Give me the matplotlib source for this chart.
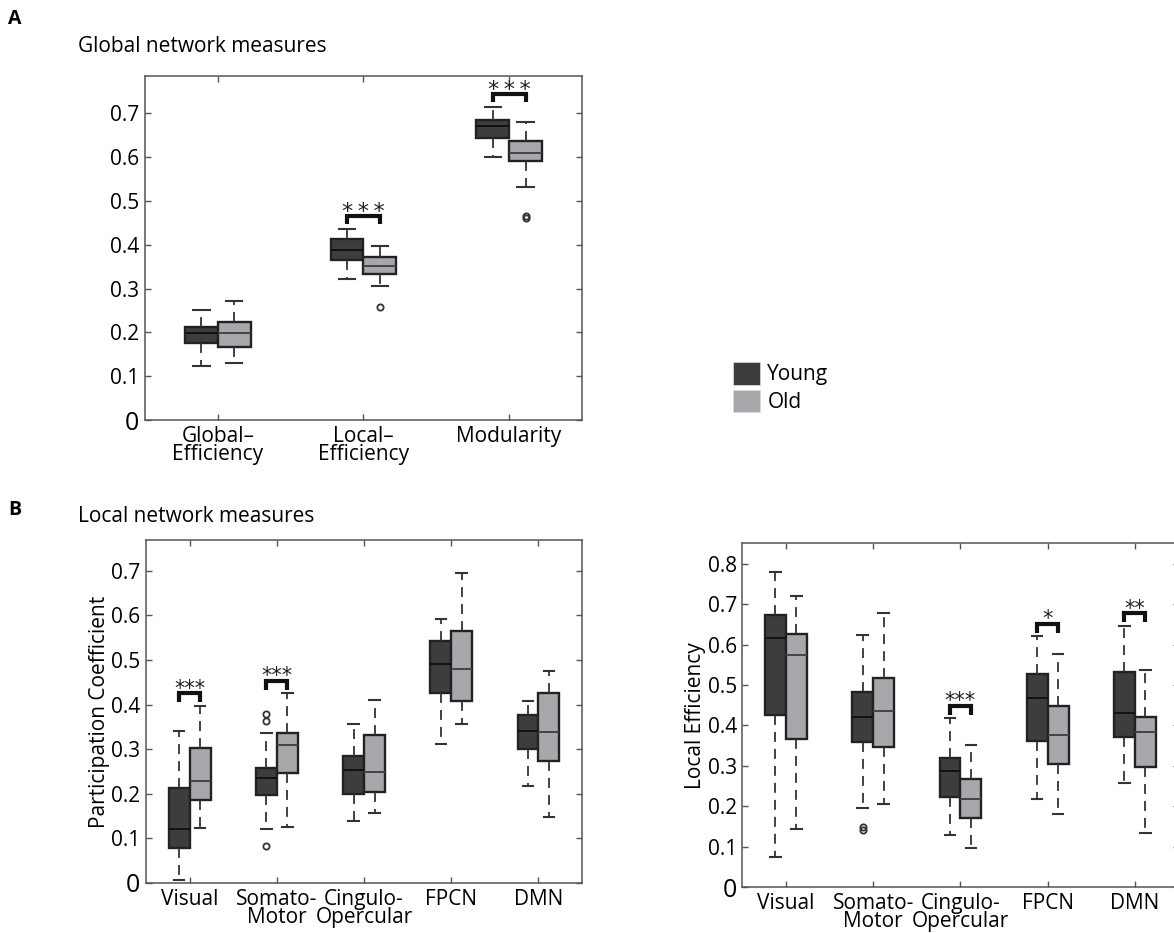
import matplotlib
matplotlib.use('Agg')
import matplotlib.pyplot as plt
import numpy as np
from matplotlib.patches import Patch

plt.rcParams['font.family'] = ['Open Sans', 'DejaVu Sans']

# %% data -- panel A, global network measures
global_labels = ['Global\u2013\nEfficiency', 'Local\u2013\nEfficiency', 'Modularity']
g_young_q1 = [0.175, 0.366, 0.643]
g_young_med = [0.198, 0.387, 0.671]
g_young_q3 = [0.213, 0.413, 0.685]
g_young_lo = [0.123, 0.322, 0.600]
g_young_hi = [0.250, 0.436, 0.714]
g_young_out = [[], [], []]
g_old_q1 = [0.167, 0.334, 0.590]
g_old_med = [0.198, 0.352, 0.610]
g_old_q3 = [0.224, 0.372, 0.636]
g_old_lo = [0.130, 0.305, 0.532]
g_old_hi = [0.271, 0.398, 0.680]
g_old_out = [[], [0.259], [0.460, 0.466]]
g_sig_idx = [1, 2]
g_sig_top = [0.465, 0.743]
g_sig_txt = ['*\u2009*\u2009*', '*\u2009*\u2009*']

# %% panel B, local network measures
net_labels = ['Visual', 'Somato-\nMotor', 'Cingulo-\nOpercular', 'FPCN', 'DMN']
# participation coefficient
p_young_q1 = [0.078, 0.197, 0.200, 0.426, 0.300]
p_young_med = [0.121, 0.235, 0.254, 0.492, 0.341]
p_young_q3 = [0.213, 0.258, 0.284, 0.543, 0.377]
p_young_lo = [0.006, 0.120, 0.140, 0.311, 0.218]
p_young_hi = [0.340, 0.336, 0.357, 0.593, 0.409]
p_young_out = [[], [0.082, 0.364, 0.378], [], [], []]
p_old_q1 = [0.187, 0.247, 0.204, 0.409, 0.273]
p_old_med = [0.229, 0.310, 0.249, 0.479, 0.338]
p_old_q3 = [0.303, 0.337, 0.331, 0.565, 0.425]
p_old_lo = [0.123, 0.126, 0.156, 0.357, 0.149]
p_old_hi = [0.396, 0.425, 0.410, 0.696, 0.475]
p_old_out = [[], [], [], [], []]
p_sig_idx = [0, 1]
p_sig_top = [0.425, 0.453]
p_sig_txt = ['***', '***']

# local efficiency
l_young_q1 = [0.425, 0.360, 0.223, 0.361, 0.372]
l_young_med = [0.615, 0.420, 0.288, 0.469, 0.431]
l_young_q3 = [0.672, 0.483, 0.319, 0.526, 0.533]
l_young_lo = [0.075, 0.197, 0.129, 0.217, 0.259]
l_young_hi = [0.779, 0.624, 0.418, 0.620, 0.645]
l_young_out = [[], [0.141, 0.150], [], [], []]
l_old_q1 = [0.367, 0.347, 0.171, 0.304, 0.298]
l_old_med = [0.574, 0.436, 0.217, 0.377, 0.383]
l_old_q3 = [0.625, 0.517, 0.267, 0.448, 0.420]
l_old_lo = [0.145, 0.206, 0.097, 0.181, 0.133]
l_old_hi = [0.720, 0.679, 0.352, 0.577, 0.538]
l_old_out = [[], [], [], [], []]
l_sig_idx = [2, 3, 4]
l_sig_top = [0.449, 0.651, 0.677]
l_sig_txt = ['***', '*', '**']

YOUNG = '#3d3d3d'
OLD = '#a7a8ab'
EDGE = '#222222'
AXC = '#555555'


def make_stats(q1, med, q3, lo, hi, out):
    return [dict(q1=a, med=b, q3=c, whislo=d, whishi=e, fliers=f)
            for a, b, c, d, e, f in zip(q1, med, q3, lo, hi, out)]


def draw_group(ax, stats, pos, w, face, medc):
    ax.bxp(stats, positions=pos, widths=w, capwidths=w * 0.5, patch_artist=True, manage_ticks=False,
           boxprops=dict(facecolor=face, edgecolor=EDGE, linewidth=1.7),
           medianprops=dict(color=medc, linewidth=1.4),
           whiskerprops=dict(color='#333333', linewidth=1.3, linestyle=(0, (5.5, 3.9))),
           capprops=dict(color='#333333', linewidth=1.5),
           flierprops=dict(marker='o', markerfacecolor='none', markeredgecolor='#333333',
                           markersize=4.5, markeredgewidth=1.3))


def panel(ax, young, old, labels, w, sig_idx, sig_top, sig_txt, drop, star_fs):
    pos = np.arange(1, len(labels) + 1)
    draw_group(ax, young, pos - w / 2, w, YOUNG, '#111111')
    draw_group(ax, old, pos + w / 2, w, OLD, '#444444')
    for i, top, txt in zip(sig_idx, sig_top, sig_txt):
        x0, x1 = pos[i] - w / 2, pos[i] + w / 2
        ax.plot([x0, x0, x1, x1], [top - drop, top, top, top - drop], color='#111111', lw=3,
                solid_joinstyle='miter', solid_capstyle='butt')
        ax.annotate(txt, (pos[i], top), xytext=(0, -1), textcoords='offset points',
                    ha='center', va='baseline', fontsize=star_fs, family='DejaVu Sans',
                    color='#222222')
    ax.set_xlim(0.5, len(labels) + 0.5)
    ax.set_xticks(pos)
    ax.set_xticklabels(labels, fontsize=15, linespacing=0.85)
    ax.tick_params(direction='in', top=True, right=True, length=4, width=1, color=AXC,
                   labelsize=15, pad=4)
    for s in ax.spines.values():
        s.set_color(AXC)
        s.set_linewidth(1.1)


fig = plt.figure(figsize=(11.74, 9.33), dpi=100)

# panel A
axA = fig.add_axes([0.1235, 0.5498, 0.3722, 0.3687])
panel(axA, make_stats(g_young_q1, g_young_med, g_young_q3, g_young_lo, g_young_hi, g_young_out),
      make_stats(g_old_q1, g_old_med, g_old_q3, g_old_lo, g_old_hi, g_old_out),
      global_labels, 0.225, g_sig_idx, g_sig_top, g_sig_txt, 0.018, 16)
axA.set_ylim(0, 0.785)
axA.set_yticks(np.arange(0, 0.71, 0.1))
axA.set_yticklabels(['0', '0.1', '0.2', '0.3', '0.4', '0.5', '0.6', '0.7'])

# panel B left
axB1 = fig.add_axes([0.1244, 0.0536, 0.3714, 0.3676])
panel(axB1, make_stats(p_young_q1, p_young_med, p_young_q3, p_young_lo, p_young_hi, p_young_out),
      make_stats(p_old_q1, p_old_med, p_old_q3, p_old_lo, p_old_hi, p_old_out),
      net_labels, 0.24, p_sig_idx, p_sig_top, p_sig_txt, 0.02, 15)
axB1.set_ylim(0, 0.769)
axB1.set_yticks(np.arange(0, 0.71, 0.1))
axB1.set_yticklabels(['0', '0.1', '0.2', '0.3', '0.4', '0.5', '0.6', '0.7'])
axB1.set_ylabel('Participation Coefficient', fontsize=15, labelpad=1)

# panel B right (runs past the right edge like the original)
axB2 = fig.add_axes([0.6323, 0.049, 0.3716, 0.369])
panel(axB2, make_stats(l_young_q1, l_young_med, l_young_q3, l_young_lo, l_young_hi, l_young_out),
      make_stats(l_old_q1, l_old_med, l_old_q3, l_old_lo, l_old_hi, l_old_out),
      net_labels, 0.24, l_sig_idx, l_sig_top, l_sig_txt, 0.022, 15)
axB2.set_ylim(0, 0.851)
axB2.set_yticks(np.arange(0, 0.81, 0.1))
axB2.set_yticklabels(['0', '0.1', '0.2', '0.3', '0.4', '0.5', '0.6', '0.7', '0.8'])
axB2.set_ylabel('Local Efficiency', fontsize=15, labelpad=1)

for ax in (axA, axB1, axB2):
    ax.get_yticklabels()[0].set_fontsize(18)

# panel letters and titles
fig.text(8 / 1174, 1 - 19 / 933, 'A', fontsize=14, fontweight='bold', va='center', ha='left')
fig.text(78 / 1174, 1 - 46 / 933, 'Global network measures', fontsize=15, va='center', ha='left')
fig.text(8 / 1174, 1 - 510 / 933, 'B', fontsize=14, fontweight='bold', va='center', ha='left')
fig.text(78 / 1174, 1 - 517 / 933, 'Local network measures', fontsize=15, va='center', ha='left')

handles = [Patch(facecolor=YOUNG, edgecolor='#dddddd', linewidth=0.5),
           Patch(facecolor=OLD, edgecolor='#dddddd', linewidth=0.5)]
fig.legend(handles, ['Young', 'Old'], loc='upper left', bbox_to_anchor=(733 / 1174, 1 - 362 / 933),
           frameon=False, fontsize=15, handlelength=1.3, handleheight=1.3, handletextpad=0.35,
           labelspacing=0.2, borderpad=0, borderaxespad=0)

fig.savefig('out.png', dpi=100)
